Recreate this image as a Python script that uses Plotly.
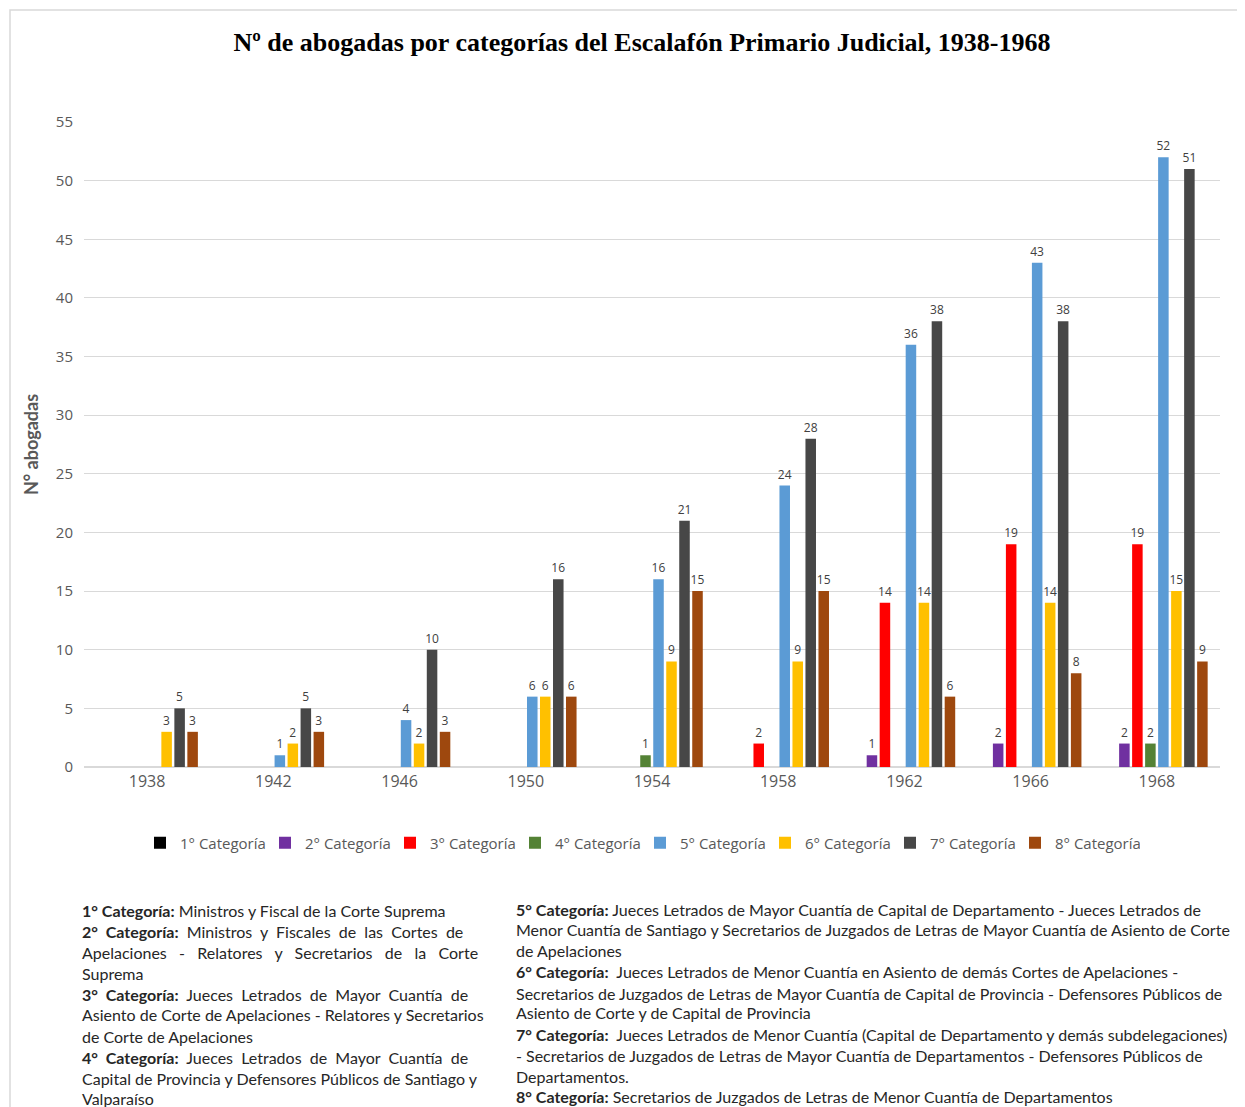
import plotly.graph_objects as go

years = ["1938", "1942", "1946", "1950", "1954", "1958", "1962", "1966", "1968"]
series_names = ["1° Categoría", "2° Categoría", "3° Categoría", "4° Categoría",
                "5° Categoría", "6° Categoría", "7° Categoría", "8° Categoría"]
cat1 = [0, 0, 0, 0, 0, 0, 0, 0, 0]
cat2 = [0, 0, 0, 0, 0, 0, 1, 2, 2]
cat3 = [0, 0, 0, 0, 0, 2, 14, 19, 19]
cat4 = [0, 0, 0, 0, 1, 0, 0, 0, 2]
cat5 = [0, 1, 4, 6, 16, 24, 36, 43, 52]
cat6 = [3, 2, 2, 6, 9, 9, 14, 14, 15]
cat7 = [5, 5, 10, 16, 21, 28, 38, 38, 51]
cat8 = [3, 3, 3, 6, 15, 15, 6, 8, 9]
colors = ["#000000", "#7030A0", "#FF0000", "#548235",
          "#5B9BD5", "#FFC000", "#474747", "#9E480E"]

# page body has an 8px margin: work in page pixels, shift into figure pixels
OFF = 8
W, H = 1245 - OFF, 1107 - OFF
L, R, T, B = 84, 1220, 122, 767  # plot area in page pixels


def px(x):
    return (x - L) / (R - L)


def py(y):
    return (B - y) / (B - T)


fig = go.Figure()
for name, vals, col in zip(series_names, [cat1, cat2, cat3, cat4, cat5, cat6, cat7, cat8], colors):
    fig.add_trace(go.Bar(
        x=years, y=[v if v else None for v in vals], name=name,
        marker=dict(color=col, line=dict(width=0)),
        text=[str(v) if v else "" for v in vals], textposition="outside",
        textfont=dict(family="Open Sans", size=12, color="#404040"),
        constraintext="none", cliponaxis=False,
    ))

footL = [
    "<b>1° Categoría:</b> Ministros y Fiscal de la Corte Suprema",
    "<b>2°  Categoría:</b>  Ministros  y  Fiscales  de  las  Cortes  de",
    "Apelaciones   -   Relatores   y   Secretarios   de   la   Corte",
    "Suprema",
    "<b>3°  Categoría:</b>  Jueces  Letrados  de  Mayor  Cuantía  de",
    "Asiento de Corte de Apelaciones - Relatores y Secretarios",
    "de Corte de Apelaciones",
    "<b>4°  Categoría:</b>  Jueces  Letrados  de  Mayor  Cuantía  de",
    "Capital de Provincia y Defensores Públicos de Santiago y",
    "Valparaíso",
]
footL_y = [910, 931, 952, 973, 994, 1015, 1036, 1057, 1078, 1098]
footR = [
    "<b>5° Categoría:</b> Jueces Letrados de Mayor Cuantía de Capital de Departamento - Jueces Letrados de",
    "Menor Cuantía de Santiago y Secretarios de Juzgados de Letras de Mayor Cuantía de Asiento de Corte",
    "de Apelaciones",
    "<b>6° Categoría:</b>  Jueces Letrados de Menor Cuantía en Asiento de demás Cortes de Apelaciones -",
    "Secretarios de Juzgados de Letras de Mayor Cuantía de Capital de Provincia - Defensores Públicos de",
    "Asiento de Corte y de Capital de Provincia",
    "<b>7° Categoría:</b>  Jueces Letrados de Menor Cuantía (Capital de Departamento y demás subdelegaciones)",
    "- Secretarios de Juzgados de Letras de Mayor Cuantía de Departamentos - Defensores Públicos de",
    "Departamentos.",
    "<b>8° Categoría:</b> Secretarios de Juzgados de Letras de Menor Cuantía de Departamentos",
]
footR_y = [909, 929, 950, 971, 993, 1012, 1034, 1055, 1076, 1096]

annotations = []
for t, y in zip(footL, footL_y):
    annotations.append(dict(text=t, x=px(80), y=py(y), xref="paper", yref="paper",
                            xanchor="left", yanchor="middle", showarrow=False,
                            font=dict(family="Lato", size=16, color="#262626")))
for t, y in zip(footR, footR_y):
    annotations.append(dict(text=t, x=px(514), y=py(y), xref="paper", yref="paper",
                            xanchor="left", yanchor="middle", showarrow=False,
                            font=dict(family="Lato", size=16, color="#262626")))

fig.update_layout(
    width=W, height=H,
    margin=dict(l=L - OFF, r=W - (R - OFF), t=T - OFF, b=H - (B - OFF), autoexpand=False),
    paper_bgcolor="white", plot_bgcolor="white",
    title=dict(text="<b>Nº de abogadas por categorías del Escalafón Primario Judicial, 1938-1968</b>",
               x=(642 - OFF) / W, xanchor="center", xref="container",
               y=1 - (42 - OFF) / H, yanchor="middle", yref="container",
               font=dict(family="Liberation Serif", size=26, color="#000000")),
    barmode="group", bargap=0.176, bargroupgap=0.19,
    xaxis=dict(showgrid=False, showline=True, linecolor="#D9D9D9", linewidth=1,
               ticks="", tickfont=dict(family="Open Sans", size=16, color="#595959")),
    yaxis=dict(range=[0, 55], tick0=0, dtick=5, showgrid=True, gridcolor="#D9D9D9",
               gridwidth=1, zeroline=True, zerolinecolor="#D9D9D9", showline=False,
               ticks="", ticklabelstandoff=10,
               tickfont=dict(family="Open Sans", size=15, color="#595959"),
               title=dict(text="<b>N° abogadas</b>", standoff=12,
                          font=dict(family="Lato", size=18, color="#595959"))),
    legend=dict(orientation="h", x=px(640), xanchor="center", y=py(843), yanchor="middle",
                font=dict(family="Open Sans", size=15, color="#595959"),
                itemwidth=30, entrywidth=80, traceorder="normal"),
    annotations=annotations,
    shapes=[dict(type="rect", xref="paper", yref="paper", x0=px(10), x1=px(1243),
                 y0=py(1115), y1=py(10), line=dict(color="#D9D9D9", width=1.5),
                 fillcolor="rgba(0,0,0,0)", layer="below")],
)

fig.write_html("out.html")
